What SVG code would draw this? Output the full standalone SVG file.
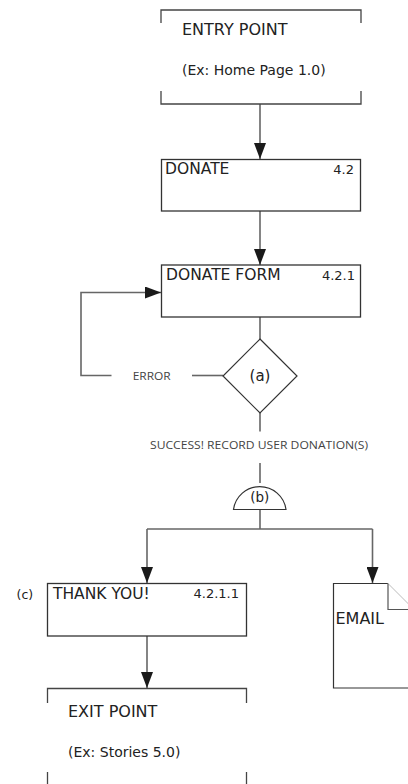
<svg xmlns="http://www.w3.org/2000/svg" width="408" height="784" viewBox="0 0 408 784">
  <style>
    .box { fill: #fff; stroke: #333; stroke-width: 1.3; }
    .br { fill: none; stroke: #444; stroke-width: 1.3; }
    .ln { fill: none; stroke: #666; stroke-width: 1.6; }
    .t { font-family: "DejaVu Sans", Verdana, sans-serif; fill: #222; }
    .big { font-size: 15.5px; }
    .ep { font-size: 16px; }
    .sub { font-size: 14px; }
    .num { font-size: 13px; text-anchor: end; }
    .lbl { font-family: "Open Sans", "Liberation Sans", sans-serif; font-size: 10px; fill: #444; }
  </style>
  <defs>
    <marker id="ah" markerUnits="userSpaceOnUse" markerWidth="16" markerHeight="12" refX="16" refY="6" orient="auto">
      <path d="M0,0 L16,6 L0,12 Z" fill="#1a1a1a"/>
    </marker>
  </defs>

  <g id="connectors">
    <line class="ln" x1="260" y1="104" x2="260" y2="159" marker-end="url(#ah)"/>
    <line class="ln" x1="260" y1="211" x2="260" y2="265" marker-end="url(#ah)"/>
    <line class="ln" x1="260" y1="317" x2="260" y2="339"/>
    <polyline class="ln" points="223,375.5 192,375.5"/>
    <polyline class="ln" points="111.5,375.5 81,375.5 81,292.5 161,292.5" marker-end="url(#ah)"/>
    <line class="ln" x1="260" y1="413" x2="260" y2="431.5"/>
    <line class="ln" x1="260" y1="463" x2="260" y2="483"/>
    <line class="ln" x1="260" y1="509.5" x2="260" y2="529"/>
    <line class="ln" x1="147" y1="529" x2="372.5" y2="529"/>
    <line class="ln" x1="147" y1="529" x2="147" y2="583" marker-end="url(#ah)"/>
    <line class="ln" x1="372.5" y1="529" x2="372.5" y2="583" marker-end="url(#ah)"/>
    <line class="ln" x1="147" y1="636" x2="147" y2="688" marker-end="url(#ah)"/>
    <text class="lbl" x="132.7" y="379.5" textLength="38" lengthAdjust="spacingAndGlyphs">ERROR</text>
    <text class="lbl" x="150" y="448.5" textLength="218" lengthAdjust="spacingAndGlyphs">SUCCESS! RECORD USER DONATION(S)</text>
  </g>

  <g id="entry-point">
    <polyline class="br" points="161,23 161,10 361,10 361,23"/>
    <polyline class="br" points="161,91 161,104 361,104 361,91"/>
    <text class="t ep" x="182" y="35">ENTRY POINT</text>
    <text class="t sub" x="182" y="75">(Ex: Home Page 1.0)</text>
  </g>

  <g id="donate">
    <rect class="box" x="161.5" y="159.5" width="199" height="51.5"/>
    <text class="t big" x="165" y="174">DONATE</text>
    <text class="t num" x="354" y="174">4.2</text>
  </g>

  <g id="donate-form">
    <rect class="box" x="161.5" y="265" width="199" height="52"/>
    <text class="t big" x="166" y="280">DONATE FORM</text>
    <text class="t num" x="355" y="280">4.2.1</text>
  </g>

  <g id="decision-a">
    <polygon points="260,339 297,376 260,413 223,376" fill="#fff" stroke="#333" stroke-width="1.2"/>
    <text class="t" x="260" y="381" font-size="15" text-anchor="middle">(a)</text>
  </g>

  <g id="merge-b">
    <path d="M233.5,509.5 A26.5,26.5 0 0 1 286,509.5 Z" fill="#fff" stroke="#333" stroke-width="1.2"/>
    <text class="t" x="259.7" y="501.5" font-size="13.5" text-anchor="middle">(b)</text>
  </g>

  <g id="thank-you">
    <rect class="box" x="47.5" y="583.5" width="199" height="52.5"/>
    <text class="t" x="16.5" y="599" font-size="12.5">(c)</text>
    <text class="t big" x="53" y="598.5">THANK YOU!</text>
    <text class="t num" x="239" y="598">4.2.1.1</text>
  </g>

  <g id="email">
    <path d="M388,583.5 L333.5,583.5 L333.5,688 L414,688" fill="#fff" stroke="#333" stroke-width="1.2"/>
    <line x1="388" y1="583.5" x2="414" y2="609.5" stroke="#bbb" stroke-width="1"/>
    <polyline points="388,583.5 388,609.5 414,609.5" fill="none" stroke="#555" stroke-width="1.2"/>
    <text class="t ep" x="335.5" y="624">EMAIL</text>
  </g>

  <g id="exit-point">
    <polyline class="br" points="47.5,703 47.5,688.5 246.5,688.5 246.5,703"/>
    <polyline class="br" points="47.5,772 47.5,790"/>
    <polyline class="br" points="246.5,772 246.5,790"/>
    <text class="t ep" x="68" y="717">EXIT POINT</text>
    <text class="t sub" x="68" y="757">(Ex: Stories 5.0)</text>
  </g>
</svg>
